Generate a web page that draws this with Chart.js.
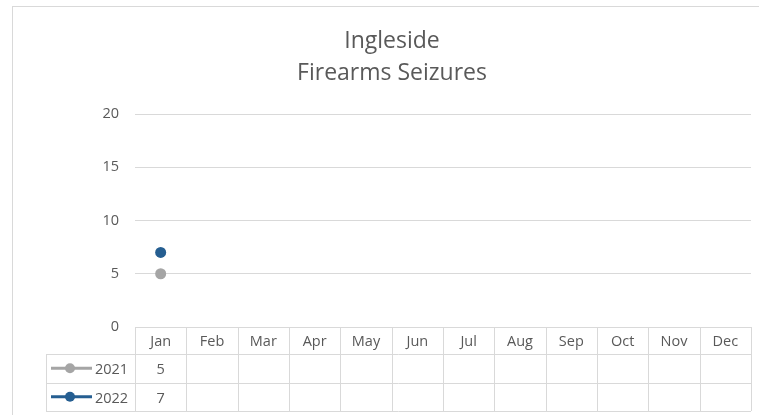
<!DOCTYPE html>
<html lang="en">
<head>
    <meta charset="UTF-8">
    <title>Ingleside Firearms Seizures</title>
    <script src="https://cdn.jsdelivr.net/npm/chart.js"></script>
    <style>
        html, body { margin: 0; padding: 0; background: #fff; }
        #wrap { width: 759px; height: 415px; }
    </style>
</head>
<body>
    <div id="wrap">
        <canvas id="seizuresChart" width="759" height="415"></canvas>
    </div>
    <script>
        const months = ['Jan', 'Feb', 'Mar', 'Apr', 'May', 'Jun', 'Jul', 'Aug', 'Sep', 'Oct', 'Nov', 'Dec'];
        const seizures2021 = [5, null, null, null, null, null, null, null, null, null, null, null];
        const seizures2022 = [7, null, null, null, null, null, null, null, null, null, null, null];
        const yTicks = { min: 0, max: 20, step: 5 };
        const titleLines = ['Ingleside', 'Firearms Seizures'];

        const FONT = "'Open Sans', sans-serif";
        const TEXT = '#595959';
        const GRID = '#d9d9d9';

        // draws the border, title and the Excel-style data table under the plot
        const tablePlugin = {
            id: 'dataTable',
            beforeDraw(chart) {
                const ctx = chart.ctx;
                ctx.save();
                ctx.strokeStyle = GRID;
                ctx.lineWidth = 1;
                ctx.strokeRect(12.5, 6.5, chart.width + 20, chart.height + 20);
                ctx.restore();
            },
            afterDraw(chart) {
                const ctx = chart.ctx;
                const area = chart.chartArea;
                const x = chart.scales.x;
                const colW = (area.right - area.left) / months.length;
                const headH = 27, rowH = 28.5;
                const top = area.bottom;
                const legendLeft = 46;

                ctx.save();
                // title (sits left of the plot centre, like the original)
                ctx.fillStyle = TEXT;
                ctx.font = '23px ' + FONT;
                ctx.textAlign = 'center';
                ctx.textBaseline = 'alphabetic';
                titleLines.forEach((t, i) => ctx.fillText(t, 392, 48 + i * 32));

                // grid of the table
                ctx.strokeStyle = GRID;
                ctx.lineWidth = 1;
                const bottom = top + headH + rowH * chart.data.datasets.length;
                ctx.beginPath();
                ctx.moveTo(area.left, top + 0.5);
                ctx.lineTo(area.right, top + 0.5);
                for (let r = 0; r <= chart.data.datasets.length; r++) {
                    const yy = Math.round(top + headH + r * rowH) + 0.5;
                    ctx.moveTo(legendLeft, yy);
                    ctx.lineTo(area.right, yy);
                }
                for (let c = 0; c <= months.length; c++) {
                    const xx = Math.round(area.left + c * colW) + 0.5;
                    ctx.moveTo(xx, top);
                    ctx.lineTo(xx, bottom);
                }
                ctx.moveTo(legendLeft + 0.5, top + headH);
                ctx.lineTo(legendLeft + 0.5, bottom);
                ctx.stroke();

                // month headers
                ctx.fillStyle = TEXT;
                ctx.font = '14.5px ' + FONT;
                months.forEach((m, i) => ctx.fillText(m, x.getPixelForValue(i), top + 19));

                // rows
                chart.data.datasets.forEach((ds, r) => {
                    const rowTop = top + headH + r * rowH;
                    const cy = rowTop + rowH / 2;
                    ctx.strokeStyle = ds.borderColor;
                    ctx.lineWidth = 3;
                    ctx.beginPath();
                    ctx.moveTo(51, cy);
                    ctx.lineTo(92, cy);
                    ctx.stroke();
                    ctx.fillStyle = ds.borderColor;
                    ctx.beginPath();
                    ctx.arc(70, cy, 5, 0, Math.PI * 2);
                    ctx.fill();
                    ctx.fillStyle = TEXT;
                    ctx.textAlign = 'left';
                    ctx.fillText(ds.label, 95, rowTop + 20);
                    ctx.textAlign = 'center';
                    ds.data.forEach((v, i) => {
                        if (v !== null) ctx.fillText(String(v), x.getPixelForValue(i), rowTop + 20);
                    });
                });
                ctx.restore();
            }
        };

        new Chart(document.getElementById('seizuresChart'), {
            type: 'line',
            data: {
                labels: months,
                datasets: [{
                    label: '2021',
                    data: seizures2021,
                    borderColor: '#a5a5a5',
                    backgroundColor: '#a5a5a5',
                    borderWidth: 2.25,
                    pointRadius: 5.5,
                    pointBorderWidth: 0
                }, {
                    label: '2022',
                    data: seizures2022,
                    borderColor: '#255e91',
                    backgroundColor: '#255e91',
                    borderWidth: 2.25,
                    pointRadius: 5.5,
                    pointBorderWidth: 0
                }]
            },
            options: {
                responsive: false,
                animation: false,
                layout: { padding: { left: 12, top: 114, right: 8, bottom: 88 } },
                scales: {
                    x: {
                        display: false,
                        offset: true
                    },
                    y: {
                        min: yTicks.min,
                        max: yTicks.max,
                        afterFit(scale) { scale.width = 123; },
                        border: { display: false },
                        grid: { color: GRID, drawTicks: false },
                        ticks: {
                            stepSize: yTicks.step,
                            padding: 16,
                            color: TEXT,
                            font: { family: FONT, size: 14.5 }
                        }
                    }
                },
                plugins: {
                    legend: { display: false },
                    title: { display: false },
                    tooltip: { enabled: false }
                }
            },
            plugins: [tablePlugin]
        });
    </script>
</body>
</html>
